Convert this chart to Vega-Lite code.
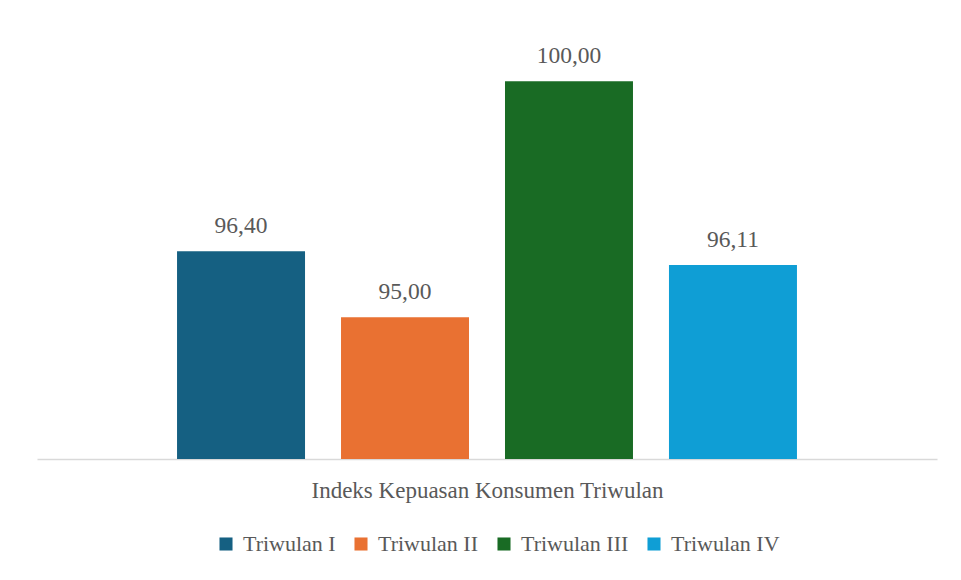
{
  "$schema": "https://vega.github.io/schema/vega-lite/v6.json",
  "autosize": "none",
  "width": 900,
  "height": 425,
  "padding": {"left": 37, "top": 34, "right": 24, "bottom": 121},
  "background": "white",
  "config": {
    "view": {"stroke": null},
    "font": "Liberation Serif",
    "locale": {"number": {"decimal": ",", "thousands": ".", "grouping": [3], "currency": ["", ""]}}
  },
  "data": {
    "values": [
      {"seri": "Triwulan I", "nilai": 96.40},
      {"seri": "Triwulan II", "nilai": 95.00},
      {"seri": "Triwulan III", "nilai": 100.00},
      {"seri": "Triwulan IV", "nilai": 96.11}
    ]
  },
  "encoding": {
    "x": {
      "field": "seri", "type": "nominal",
      "sort": ["Triwulan I", "Triwulan II", "Triwulan III", "Triwulan IV"],
      "scale": {"paddingInner": 0.2195, "paddingOuter": 0.854},
      "axis": {
        "title": "Indeks Kepuasan Konsumen Triwulan",
        "labels": false, "ticks": false,
        "domainColor": "#d9d9d9", "domainWidth": 1.5,
        "titleFont": "Liberation Serif", "titleFontSize": 23, "titleFontWeight": "normal",
        "titleColor": "#595959", "titlePadding": 20
      }
    },
    "y": {
      "field": "nilai", "type": "quantitative",
      "scale": {"domain": [92, 101], "zero": false},
      "axis": null
    }
  },
  "layer": [
    {
      "mark": {"type": "bar", "clip": true},
      "encoding": {
        "y2": {"datum": 92},
        "color": {
          "field": "seri", "type": "nominal",
          "sort": ["Triwulan I", "Triwulan II", "Triwulan III", "Triwulan IV"],
          "scale": {"range": ["#156082", "#E97132", "#196B24", "#0F9ED5"]},
          "legend": {
            "title": null, "orient": "none", "direction": "horizontal",
            "legendX": 178, "legendY": 499,
            "symbolType": "square", "symbolSize": 170, "symbolStrokeWidth": 0,
            "labelFont": "Liberation Serif", "labelFontSize": 22, "labelColor": "#595959",
            "labelOffset": 6, "columnPadding": 14, "labelLimit": 300
          }
        }
      }
    },
    {
      "mark": {"type": "text", "baseline": "alphabetic", "dy": -18, "fontSize": 23.5, "color": "#595959", "font": "Liberation Serif"},
      "encoding": {
        "text": {"field": "nilai", "type": "quantitative", "format": ".2f"}
      }
    }
  ]
}
